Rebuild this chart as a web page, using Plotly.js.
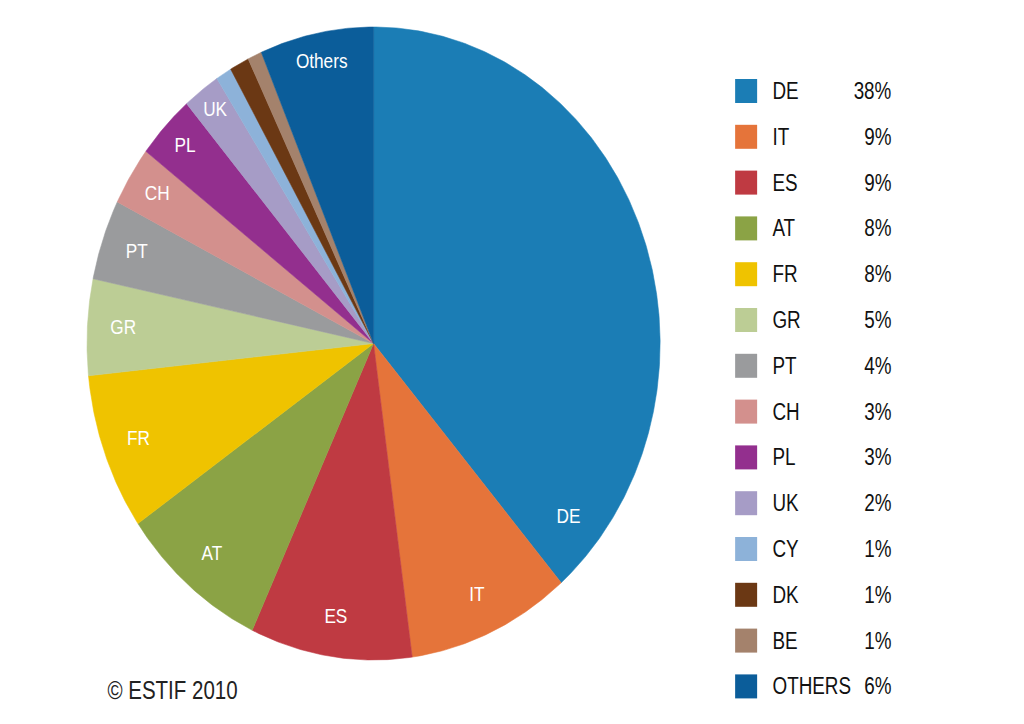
<!DOCTYPE html>
<html>
<head>
<meta charset="utf-8">
<script src="https://cdn.plot.ly/plotly-3.0.1.min.js"></script>
<style>
html, body { margin: 0; padding: 0; background: #ffffff; overflow: hidden; width: 1024px; height: 724px; }
#wrap { width: 1024px; height: 724px; overflow: hidden; position: relative; }
#chart { position: absolute; left: 0; top: 0; transform-origin: 0 0; }
</style>
</head>
<body>
<div id="wrap"><div id="chart"></div></div>
<script>
// ---- data ----
const countries = ["DE", "IT", "ES", "AT", "FR", "GR", "PT", "CH", "PL", "UK", "CY", "DK", "BE", "Others"];
const legendNames = ["DE", "IT", "ES", "AT", "FR", "GR", "PT", "CH", "PL", "UK", "CY", "DK", "BE", "OTHERS"];
const shares = [38.6, 9.2, 9.1, 8.4, 8.0, 4.9, 4.1, 3.0, 3.3, 2.1, 0.9, 1.1, 0.8, 6.4];
const percentLabels = ["38%", "9%", "9%", "8%", "8%", "5%", "4%", "3%", "3%", "2%", "1%", "1%", "1%", "6%"];
const sliceLabels = ["DE", "IT", "ES", "AT", "FR", "GR", "PT", "CH", "PL", "UK", "", "", "", "Others"];
const colors = ["#1b7db5", "#e5743a", "#bf3a42", "#8ba345", "#efc300", "#bccd95", "#9a9b9d",
                "#d3908d", "#932f8e", "#a69cc6", "#8db2d9", "#6b3814", "#a4826c", "#0b5d9a"];
const copyrightText = "© ESTIF 2010";

// ---- layout constants (reference pixel space) ----
const W = 1024, H = 724;
const SQUEEZE = 0.82;                      // horizontal condensing of the whole drawing (narrow type look)
const CX = 373.5, CY = 343.5, RX = 286.5, RY = 316.5;
const FONT = "'Liberation Sans', Arial, sans-serif";
const labelFrac = { DE: 0.927 };
const labelRad = { CH: 0.89, PL: 0.905, UK: 0.92, Others: 0.905 };
const LEG_X0 = 735, LEG_X1 = 757, LEG_Y0 = 91, LEG_DY = 45.8, LEG_TXT = 771, LEG_PCT = 893;

const total = shares.reduce((a, b) => a + b, 0);
const traces = [];
const labX = [], labY = [], labT = [];
let cum = 0;
function pt(deg, f) {
  const t = deg * Math.PI / 180;
  return [CX + f * RX * Math.sin(t), CY - f * RY * Math.cos(t)];
}
shares.forEach((v, i) => {
  const a0 = cum / total * 360;
  cum += v;
  const a1 = cum / total * 360;
  const xs = [CX], ys = [CY];
  const n = Math.max(4, Math.ceil((a1 - a0) / 0.5));
  for (let k = 0; k <= n; k++) {
    const p = pt(a0 + (a1 - a0) * k / n, 1);
    xs.push(p[0]); ys.push(p[1]);
  }
  xs.push(CX); ys.push(CY);
  traces.push({
    type: "scatter", mode: "lines", x: xs, y: ys, fill: "toself",
    fillcolor: colors[i], line: { color: colors[i], width: 0.6 },
    hoverinfo: "skip", showlegend: false
  });
  if (sliceLabels[i]) {
    const fr = labelFrac[countries[i]] !== undefined ? labelFrac[countries[i]] : 0.5;
    const rr = labelRad[countries[i]] !== undefined ? labelRad[countries[i]] : 0.875;
    const p = pt(a0 + (a1 - a0) * fr, rr);
    labX.push(p[0]); labY.push(p[1]); labT.push(sliceLabels[i]);
  }
});
traces.push({
  type: "scatter", mode: "text", x: labX, y: labY, text: labT,
  textposition: "middle center",
  textfont: { family: FONT, size: 21, color: "#ffffff" },
  hoverinfo: "skip", showlegend: false
});

const shapes = [], annotations = [];
legendNames.forEach((name, i) => {
  const yc = LEG_Y0 + i * LEG_DY;
  shapes.push({ type: "rect", xref: "x", yref: "y", x0: LEG_X0, x1: LEG_X1, y0: yc - 12, y1: yc + 12,
    fillcolor: colors[i], line: { width: 0 } });
  annotations.push({ xref: "x", yref: "y", x: LEG_TXT, y: yc, text: name, showarrow: false,
    xanchor: "left", yanchor: "middle", font: { family: FONT, size: 23, color: "#111111" } });
  annotations.push({ xref: "x", yref: "y", x: LEG_PCT, y: yc, text: percentLabels[i], showarrow: false,
    xanchor: "right", yanchor: "middle", font: { family: FONT, size: 23, color: "#111111" } });
});
annotations.push({ xref: "x", yref: "y", x: 106, y: 690, text: copyrightText, showarrow: false,
  xanchor: "left", yanchor: "middle", font: { family: FONT, size: 25, color: "#222222" } });

const plotW = Math.round(W / SQUEEZE);
const el = document.getElementById("chart");
el.style.width = plotW + "px";
el.style.height = H + "px";
el.style.transform = "scaleX(" + SQUEEZE + ")";

const layout = {
  width: plotW, height: H,
  margin: { l: 0, r: 0, t: 0, b: 0, pad: 0 },
  paper_bgcolor: "#ffffff", plot_bgcolor: "#ffffff",
  xaxis: { range: [0, W], visible: false, fixedrange: true },
  yaxis: { range: [H, 0], visible: false, fixedrange: true },
  showlegend: false,
  shapes: shapes, annotations: annotations,
  hovermode: false
};
Plotly.newPlot(el, traces, layout, { displayModeBar: false, staticPlot: true });
</script>
</body>
</html>
